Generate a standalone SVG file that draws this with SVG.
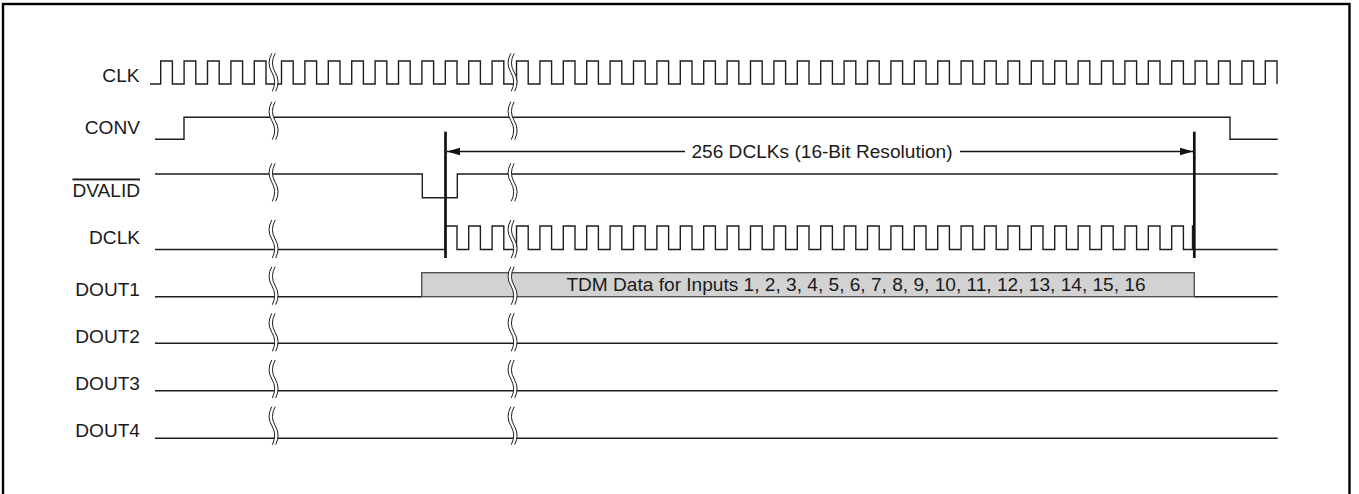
<svg xmlns="http://www.w3.org/2000/svg" width="1359" height="494" viewBox="0 0 1359 494">
<style>
  .lbl { font-family: "Liberation Sans", Arial, Helvetica, sans-serif; font-size: 19.1px; fill: #1a1a1a; }
  .lblr { text-anchor: end; }
  .sig { fill: none; stroke: #1e1e1e; stroke-width: 1.4; stroke-linejoin: miter; }
  .mark { fill: none; stroke: #111; stroke-width: 2.7; }
  .dim { fill: none; stroke: #111; stroke-width: 1.4; }
  .brk-fill { fill: #ffffff; stroke: none; }
  .brk-line { fill: none; stroke: #1e1e1e; stroke-width: 1; }
</style>
<defs>
  <marker id="arr" markerUnits="userSpaceOnUse" markerWidth="14" markerHeight="8" refX="13" refY="3.8" orient="auto-start-reverse">
    <path d="M0,0 L13,3.8 L0,7.6 Z" fill="#111"/>
  </marker>
  <g id="brk">
    <path class="brk-fill" d="M-1.7,0 Q-7.2,10 -1.7,19 Q3.8,28 -1.2,38 L2.2,38 Q7.2,28 1.7,19 Q-3.8,10 1.7,0 Z"/>
    <path class="brk-line" d="M-1.7,0 Q-7.2,10 -1.7,19 Q3.8,28 -1.2,38"/>
    <path class="brk-line" d="M1.7,0 Q-3.8,10 1.7,19 Q7.2,28 2.2,38"/>
  </g>
</defs>
<rect x="0" y="0" width="1359" height="494" fill="#ffffff"/>
<rect x="3" y="4" width="1346.5" height="500" fill="none" stroke="#000" stroke-width="2.4"/>

<g id="sig-clk">
  <text class="lbl lblr" x="139.5" y="81.5">CLK</text>
  <path class="sig" d="M150,84 H160.7 V61 h11.7 V84 h11.7 V61 h11.7 V84 h11.7 V61 h11.7 V84 h11.7 V61 h11.7 V84 h11.7 V61 h11.7 V84 h11.7 H281.5 V61 h11.7 V84 h11.7 V61 h11.7 V84 h11.7 V61 h11.7 V84 h11.7 V61 h11.7 V84 h11.7 V61 h11.7 V84 h11.7 V61 h11.7 V84 h11.7 V61 h11.7 V84 h11.7 V61 h11.7 V84 h11.7 V61 h11.7 V84 h11.7 V61 h11.7 V84 h11.7 H516.5 V61 h11.7 V84 h11.7 V61 h11.7 V84 h11.7 V61 h11.7 V84 h11.7 V61 h11.7 V84 h11.7 V61 h11.7 V84 h11.7 V61 h11.7 V84 h11.7 V61 h11.7 V84 h11.7 V61 h11.7 V84 h11.7 V61 h11.7 V84 h11.7 V61 h11.7 V84 h11.7 V61 h11.7 V84 h11.7 V61 h11.7 V84 h11.7 V61 h11.7 V84 h11.7 V61 h11.7 V84 h11.7 V61 h11.7 V84 h11.7 V61 h11.7 V84 h11.7 V61 h11.7 V84 h11.7 V61 h11.7 V84 h11.7 V61 h11.7 V84 h11.7 V61 h11.7 V84 h11.7 V61 h11.7 V84 h11.7 V61 h11.7 V84 h11.7 V61 h11.7 V84 h11.7 V61 h11.7 V84 h11.7 V61 h11.7 V84 h11.7 V61 h11.7 V84 h11.7 V61 h11.7 V84 h11.7 V61 h11.7 V84 h11.7 V61 h11.7 V84 h11.7 V61 h11.7 V84 h11.7 V61 h11.7 V84 h11.7 V61 h11.7 V84 h11.7 V61 h11.7 V84"/>
</g>

<g id="sig-conv">
  <text class="lbl lblr" x="140" y="134">CONV</text>
  <path class="sig" d="M155,139.3 H184 V117.3 H1230 V139.3 H1277.7"/>
</g>

<g id="sig-dvalid">
  <text class="lbl lblr" x="140" y="196.5" text-decoration="overline">DVALID</text>
  <path class="sig" d="M155,174 H422.3 V197.7 H457.3 V174 H1277.7"/>
</g>

<g id="sig-dclk">
  <text class="lbl lblr" x="140" y="243.5">DCLK</text>
  <path class="sig" d="M155,249.5 H445.3 V226 h11.7 V249.5 h11.7 V226 h11.7 V249.5 h11.7 V226 h11.7 V249.5 h11.7 H516.5 V226 h11.7 V249.5 h11.7 V226 h11.7 V249.5 h11.7 V226 h11.7 V249.5 h11.7 V226 h11.7 V249.5 h11.7 V226 h11.7 V249.5 h11.7 V226 h11.7 V249.5 h11.7 V226 h11.7 V249.5 h11.7 V226 h11.7 V249.5 h11.7 V226 h11.7 V249.5 h11.7 V226 h11.7 V249.5 h11.7 V226 h11.7 V249.5 h11.7 V226 h11.7 V249.5 h11.7 V226 h11.7 V249.5 h11.7 V226 h11.7 V249.5 h11.7 V226 h11.7 V249.5 h11.7 V226 h11.7 V249.5 h11.7 V226 h11.7 V249.5 h11.7 V226 h11.7 V249.5 h11.7 V226 h11.7 V249.5 h11.7 V226 h11.7 V249.5 h11.7 V226 h11.7 V249.5 h11.7 V226 h11.7 V249.5 h11.7 V226 h11.7 V249.5 h11.7 V226 h11.7 V249.5 h11.7 V226 h11.7 V249.5 h11.7 V226 h11.7 V249.5 h11.7 V226 h11.7 V249.5 h11.7 V226 h11.7 V249.5 h11.7 V226 h11.7 V249.5 H1192.5 V226 H1194.3"/>
  <path class="sig" d="M1194.3,249.5 H1277.7"/>
</g>

<g id="sig-dout1">
  <text class="lbl lblr" x="140" y="296">DOUT1</text>
  <path class="sig" d="M155,296.7 H421.7 M1194.3,296.7 H1277.7"/>
  <rect x="421.7" y="272.7" width="772.6" height="24" fill="#d2d2d2" stroke="#4a4a4a" stroke-width="1.3"/>
  <text class="lbl" x="856" y="291" text-anchor="middle">TDM Data for Inputs 1, 2, 3, 4, 5, 6, 7, 8, 9, 10, 11, 12, 13, 14, 15, 16</text>
</g>

<g id="sig-dout2">
  <text class="lbl lblr" x="140" y="342.5">DOUT2</text>
  <path class="sig" d="M155,343.3 H1277.7"/>
</g>

<g id="sig-dout3">
  <text class="lbl lblr" x="140" y="389.8">DOUT3</text>
  <path class="sig" d="M155,390.7 H1277.7"/>
</g>

<g id="sig-dout4">
  <text class="lbl lblr" x="140" y="437.3">DOUT4</text>
  <path class="sig" d="M155,438.3 H1277.7"/>
</g>

<g id="breaks">
  <use href="#brk" x="273.5" y="53.3"/>
  <use href="#brk" x="273.5" y="101.7"/>
  <use href="#brk" x="273.5" y="163.3"/>
  <use href="#brk" x="273.5" y="220"/>
  <use href="#brk" x="273.5" y="266.7"/>
  <use href="#brk" x="273.5" y="313.3"/>
  <use href="#brk" x="273.5" y="360"/>
  <use href="#brk" x="273.5" y="406.7"/>
  <use href="#brk" x="512.5" y="53.3"/>
  <use href="#brk" x="512.5" y="101.7"/>
  <use href="#brk" x="512.5" y="163.3"/>
  <use href="#brk" x="512.5" y="220"/>
  <use href="#brk" x="512.5" y="266.7"/>
  <use href="#brk" x="512.5" y="313.3"/>
  <use href="#brk" x="512.5" y="360"/>
  <use href="#brk" x="512.5" y="406.7"/>
</g>

<g id="connectors">
  <line class="mark" x1="445.5" y1="131.7" x2="445.5" y2="258"/>
  <line class="mark" x1="1194.3" y1="131.7" x2="1194.3" y2="258"/>
  <line class="dim" x1="447" y1="151.5" x2="685" y2="151.5" marker-start="url(#arr)"/>
  <line class="dim" x1="960" y1="151.5" x2="1193" y2="151.5" marker-end="url(#arr)"/>
  <text class="lbl" x="822" y="157.5" text-anchor="middle">256 DCLKs (16-Bit Resolution)</text>
</g>
</svg>
